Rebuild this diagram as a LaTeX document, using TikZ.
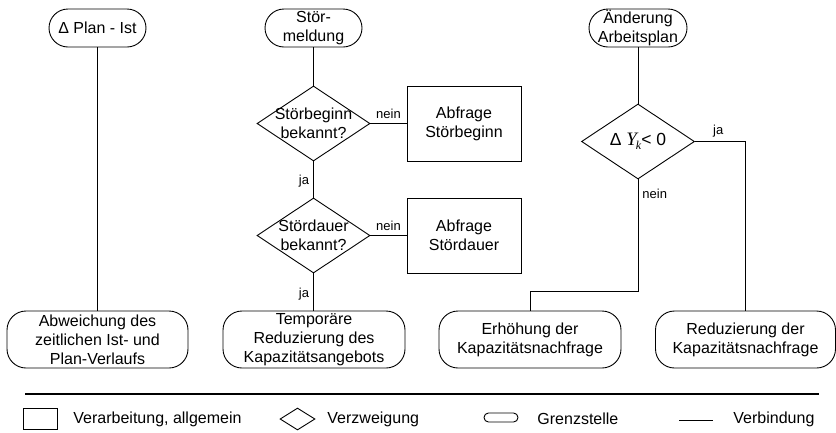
\documentclass[tikz,border=0pt]{standalone}
\usepackage{fontspec}
\setmainfont{Liberation Sans}
\newfontfamily\symserif{Liberation Serif}
\usetikzlibrary{shapes.geometric}

\tikzset{
  every path/.style={line width=0.9pt},
  txt/.style={font=\fontsize{16}{19}\selectfont, align=center, inner sep=0pt},
  small/.style={font=\fontsize{13}{15}\selectfont, inner sep=0pt},
  term/.style={txt, draw, rounded corners=19pt, minimum height=#1},
  term/.default=38pt,
  procbox/.style={txt, draw, minimum width=114pt, minimum height=75pt},
  decision/.style={draw, diamond, aspect=1.5, inner sep=0pt,
    minimum width=113pt, minimum height=75pt},
  conn/.style={draw, line width=0.9pt},
}
% italic upsilon with subscript k
\newcommand{\upsk}{{\symserif\itshape\fontsize{19}{19}\selectfont Υ\kern-1pt\raisebox{-4pt}{\fontsize{12}{12}\selectfont k}}}

\begin{document}
\begin{tikzpicture}[x=1pt, y=-1pt]
\useasboundingbox (0,0) rectangle (836,432);

% --- left column: deviation of plan and actual ---
\node[term, minimum width=97pt] (t1) at (97.5,28) {Δ Plan - Ist};
\node[term=57pt, minimum width=181pt] (abw) at (97.5,339.5)
  {Abweichung des\\zeitlichen Ist- und\\Plan-Verlaufs};
\draw[conn] (t1) -- (abw);

% --- middle column: disturbance report ---
\node[term, minimum width=97pt] (t2) at (313.5,28) {Stör-\\meldung};
\node[decision] (d1) at (313.5,123.5) {};
\node[txt] at (d1) {Störbeginn\\bekannt?};
\node[procbox] (b1) at (464,123.5) {Abfrage\\Störbeginn};
\node[decision] (d2) at (313.5,235.5) {};
\node[txt] at (d2) {Stördauer\\bekannt?};
\node[procbox] (b2) at (464,235.5) {Abfrage\\Stördauer};
\node[term=57pt, minimum width=182pt] (temp) at (314,339.5)
  {Temporäre\\Reduzierung des\\Kapazitätsangebots};

\draw[conn] (t2) -- (d1);
\draw[conn] (d1) -- node[small, left=4pt, pos=0.55] {ja} (d2);
\draw[conn] (d2) -- node[small, left=4pt, pos=0.55] {ja} (temp.north -| d2.south);
\draw[conn] (d1) -- node[small, above=4pt] {nein} (b1);
\draw[conn] (d2) -- node[small, above=4pt] {nein} (b2);

% --- right column: change of the work plan ---
\node[term, minimum width=98pt] (t3) at (638,28) {Änderung\\Arbeitsplan};
\node[decision] (d3) at (638,141.5) {};
\node[txt, font=\fontsize{17.5}{19}\selectfont] at (d3) {Δ \upsk< 0};
\node[term=57pt, minimum width=182pt] (erh) at (530,339.5)
  {Erhöhung der\\Kapazitätsnachfrage};
\node[term=57pt, minimum width=180pt] (red) at (745.5,339.5)
  {Reduzierung der\\Kapazitätsnachfrage};
\coordinate (bend) at (638,291);

\draw[conn] (t3) -- (d3);
\draw[conn] (d3.east) -| node[small, pos=0.23, above=4pt] {ja} (red.north);
\draw[conn] (d3.south) -- node[small, pos=0.13, right=4pt] {nein} (bend) -| (erh.north);

% --- legend ---
\coordinate (sepL) at (25,394);
\coordinate (sepR) at (819,394);
\draw[line width=1.6pt] (sepL) -- (sepR);

\node[draw, minimum width=34pt, minimum height=21pt, inner sep=0pt] (lbox) at (40,419) {};
\node[txt, anchor=west] at (73,419) {Verarbeitung, allgemein};

\node[draw, diamond, inner sep=0pt, aspect=1.6, minimum width=35pt, minimum height=22pt] (ldia) at (297.5,419) {};
\node[txt, anchor=west] at (327,419) {Verzweigung};

\node[draw, rounded corners=4.5pt, minimum width=34pt, minimum height=9pt, inner sep=0pt] (lterm) at (501,417.5) {};
\node[txt, anchor=west] at (537,419) {Grenzstelle};

\coordinate (lv1) at (679,420);
\coordinate (lv2) at (713,420);
\draw[conn] (lv1) -- (lv2);
\node[txt, anchor=west] at (733,419) {Verbindung};
\end{tikzpicture}
\end{document}
